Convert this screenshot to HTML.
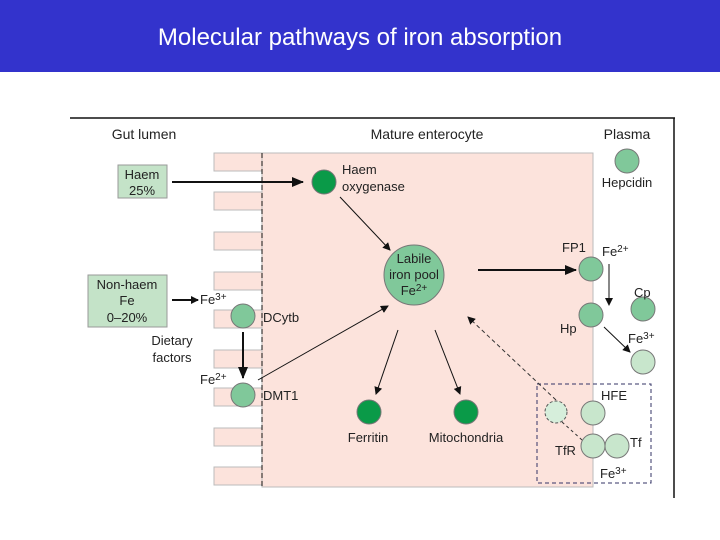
<!DOCTYPE html>
<html><head><style>
body{margin:0;width:720px;height:540px;background:#fff;overflow:hidden}
svg{display:block}
text{font-family:"Liberation Sans",sans-serif;fill:#222}
</style></head><body>
<svg width="720" height="540" viewBox="0 0 720 540">
<defs>
<marker id="a" markerWidth="8" markerHeight="8" refX="7" refY="4" orient="auto" markerUnits="userSpaceOnUse"><path d="M0,0 L8,4 L0,8 Z" fill="#111"/></marker>
<marker id="b" markerWidth="12" markerHeight="10" refX="11" refY="5" orient="auto" markerUnits="userSpaceOnUse"><path d="M0,0 L12,5 L0,10 Z" fill="#111"/></marker>
</defs>
<rect x="0" y="0" width="720" height="72" fill="#3333cc"/>
<text x="360" y="45" text-anchor="middle" font-size="24" style="fill:#fff">Molecular pathways of iron absorption</text>
<line x1="70" y1="118" x2="675" y2="118" stroke="#111" stroke-width="1.5"/>
<line x1="674" y1="118" x2="674" y2="498" stroke="#111" stroke-width="1.5"/>
<rect x="262" y="153" width="331" height="334" fill="#fce3dc" stroke="#bbb"/>
<g fill="#fce3dc" stroke="#bbb">
<rect x="214" y="153" width="48" height="18"/><rect x="214" y="192" width="48" height="18"/>
<rect x="214" y="232" width="48" height="18"/><rect x="214" y="272" width="48" height="18"/>
<rect x="214" y="310" width="48" height="18"/><rect x="214" y="350" width="48" height="18"/>
<rect x="214" y="388" width="48" height="18"/><rect x="214" y="428" width="48" height="18"/>
<rect x="214" y="467" width="48" height="18"/>
</g>
<line x1="262" y1="153" x2="262" y2="487" stroke="#111" stroke-dasharray="5,3"/>
<g font-size="14">
<text x="144" y="139" text-anchor="middle">Gut lumen</text>
<text x="427" y="139" text-anchor="middle">Mature enterocyte</text>
<text x="627" y="139" text-anchor="middle">Plasma</text>
</g>
<rect x="118" y="165" width="49" height="33" fill="#c4e3c8" stroke="#999"/>
<text x="142" y="179" text-anchor="middle" font-size="13">Haem</text>
<text x="142" y="195" text-anchor="middle" font-size="13">25%</text>
<rect x="88" y="275" width="79" height="52" fill="#c4e3c8" stroke="#999"/>
<text x="127" y="289" text-anchor="middle" font-size="13">Non-haem</text>
<text x="127" y="305" text-anchor="middle" font-size="13">Fe</text>
<text x="127" y="322" text-anchor="middle" font-size="13">0–20%</text>
<line x1="172" y1="182" x2="303" y2="182" stroke="#111" stroke-width="2" marker-end="url(#b)"/>
<circle cx="324" cy="182" r="12" fill="#0a9a48" stroke="#777"/>
<text x="342" y="174" font-size="13">Haem</text>
<text x="342" y="191" font-size="13">oxygenase</text>
<line x1="340" y1="197" x2="390" y2="250" stroke="#111" marker-end="url(#a)"/>
<circle cx="414" cy="275" r="30" fill="#80c89a" stroke="#777"/>
<text x="414" y="263" text-anchor="middle" font-size="13">Labile</text>
<text x="414" y="279" text-anchor="middle" font-size="13">iron pool</text>
<text x="414" y="295" text-anchor="middle" font-size="13">Fe<tspan font-size="10" dy="-4">2+</tspan></text>
<line x1="478" y1="270" x2="576" y2="270" stroke="#111" stroke-width="2" marker-end="url(#b)"/>
<circle cx="591" cy="269" r="12" fill="#80c89a" stroke="#777"/>
<text x="562" y="252" font-size="13">FP1</text>
<text x="602" y="256" font-size="13">Fe<tspan font-size="10" dy="-4">2+</tspan></text>
<circle cx="591" cy="315" r="12" fill="#80c89a" stroke="#777"/>
<text x="560" y="333" font-size="13">Hp</text>
<line x1="609" y1="264" x2="609" y2="305" stroke="#111" marker-end="url(#a)"/>
<circle cx="643" cy="309" r="12" fill="#80c89a" stroke="#777"/>
<text x="634" y="297" font-size="13">Cp</text>
<text x="628" y="343" font-size="13">Fe<tspan font-size="10" dy="-4">3+</tspan></text>
<line x1="604" y1="327" x2="630" y2="352" stroke="#111" marker-end="url(#a)"/>
<circle cx="643" cy="362" r="12" fill="#c8e6cc" stroke="#777"/>
<circle cx="627" cy="161" r="12" fill="#80c89a" stroke="#777"/>
<text x="627" y="187" text-anchor="middle" font-size="13">Hepcidin</text>
<rect x="537" y="384" width="114" height="99" fill="none" stroke="#336" stroke-dasharray="4,3"/>
<circle cx="556" cy="412" r="11" fill="#d6eedb" stroke="#555" stroke-dasharray="3,2"/>
<line x1="556" y1="400" x2="468" y2="317" stroke="#333" stroke-dasharray="4,3" marker-end="url(#a)"/>
<line x1="562" y1="422" x2="582" y2="440" stroke="#333" stroke-dasharray="3,3"/>
<circle cx="593" cy="413" r="12" fill="#c8e6cc" stroke="#777"/>
<circle cx="593" cy="446" r="12" fill="#c8e6cc" stroke="#777"/>
<circle cx="617" cy="446" r="12" fill="#c8e6cc" stroke="#777"/>
<text x="601" y="400" font-size="13">HFE</text>
<text x="630" y="447" font-size="13">Tf</text>
<text x="555" y="455" font-size="13">TfR</text>
<text x="600" y="478" font-size="13">Fe<tspan font-size="10" dy="-4">3+</tspan></text>
<line x1="172" y1="300" x2="198" y2="300" stroke="#111" stroke-width="2" marker-end="url(#a)"/>
<text x="200" y="304" font-size="13">Fe<tspan font-size="10" dy="-4">3+</tspan></text>
<circle cx="243" cy="316" r="12" fill="#80c89a" stroke="#777"/>
<text x="263" y="322" font-size="13">DCytb</text>
<text x="172" y="345" text-anchor="middle" font-size="13">Dietary</text>
<text x="172" y="362" text-anchor="middle" font-size="13">factors</text>
<line x1="243" y1="332" x2="243" y2="378" stroke="#111" stroke-width="2" marker-end="url(#b)"/>
<text x="200" y="384" font-size="13">Fe<tspan font-size="10" dy="-4">2+</tspan></text>
<circle cx="243" cy="395" r="12" fill="#80c89a" stroke="#777"/>
<text x="263" y="400" font-size="13">DMT1</text>
<line x1="258" y1="380" x2="388" y2="306" stroke="#111" marker-end="url(#a)"/>
<circle cx="369" cy="412" r="12" fill="#0a9a48" stroke="#777"/>
<circle cx="466" cy="412" r="12" fill="#0a9a48" stroke="#777"/>
<line x1="398" y1="330" x2="376" y2="394" stroke="#111" marker-end="url(#a)"/>
<line x1="435" y1="330" x2="460" y2="394" stroke="#111" marker-end="url(#a)"/>
<text x="368" y="442" text-anchor="middle" font-size="13">Ferritin</text>
<text x="466" y="442" text-anchor="middle" font-size="13">Mitochondria</text>
</svg>
</body></html>
